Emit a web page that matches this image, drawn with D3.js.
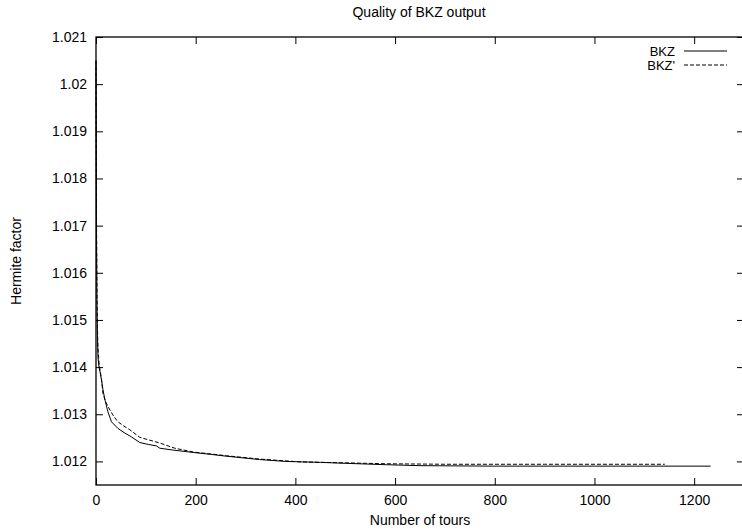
<!DOCTYPE html>
<html lang="en">
<head>
    <meta charset="UTF-8">
    <title>Quality of BKZ output</title>
    <style>
        body { margin: 0; background: #fff; }
        text { font-family: "Liberation Sans", Arial, sans-serif; fill: #000; }
    </style>
</head>
<body>
<script src="https://d3js.org/d3.v7.min.js"></script>
<script>
    // Data: [tours, hermite factor]
    const bkzTours = [0, 1, 2, 3, 4, 6, 8, 11, 14, 18, 24, 31, 44, 58, 71, 88, 105, 121, 128, 155, 195, 230, 262, 328, 380, 450, 500, 583, 650, 800, 1000, 1233];
    const bkzValues = [1.0205, 1.0168, 1.0153, 1.0146, 1.0142, 1.0140, 1.01390, 1.01373, 1.01352, 1.01330, 1.01305, 1.01284, 1.01270, 1.01260, 1.01252, 1.01240, 1.01236, 1.01233, 1.01228, 1.01224, 1.01219, 1.01215, 1.01211, 1.01204, 1.01200, 1.01198, 1.01196, 1.01193, 1.01191, 1.01190, 1.01190, 1.01190];
    const bkz2Tours = [0, 1, 2, 3, 4, 6, 8, 11, 14, 20, 28, 36, 44, 56, 68, 88, 108, 128, 158, 195, 262, 328, 409, 500, 583, 700, 900, 1141];
    const bkz2Values = [1.0205, 1.0172, 1.0156, 1.0148, 1.0144, 1.0141, 1.01395, 1.01375, 1.01344, 1.01325, 1.01309, 1.01295, 1.01284, 1.01275, 1.01267, 1.01251, 1.01245, 1.01239, 1.01228, 1.01220, 1.01212, 1.01205, 1.01199, 1.01197, 1.01195, 1.01194, 1.01194, 1.01194];
    const xTicks = [0, 200, 400, 600, 800, 1000, 1200];
    const yTicks = [1.012, 1.013, 1.014, 1.015, 1.016, 1.017, 1.018, 1.019, 1.02, 1.021];
    const seriesNames = ["BKZ", "BKZ'"];

    // Set Dimensions
    const width = 742, height = 529;
    const mLeft = 96, mRight = 744, mTop = 37, mBottom = 485;

    const svg = d3.select("body")
        .append("svg")
        .attr("width", width)
        .attr("height", height);

    const x = d3.scaleLinear().domain([0, 1300]).range([mLeft, mRight]);
    const y = d3.scaleLinear().domain([1.0115, 1.021]).range([mBottom, mTop]);

    // axes, ticks point inward
    svg.append("g")
        .attr("transform", `translate(0,${mBottom})`)
        .call(d3.axisBottom(x).tickValues(xTicks).tickSizeInner(-7).tickSizeOuter(0).tickPadding(10).tickFormat(d3.format("d")));
    svg.append("g")
        .attr("transform", `translate(0,${mTop})`)
        .call(d3.axisTop(x).tickValues(xTicks).tickSizeInner(-7).tickSizeOuter(0).tickFormat(""));
    svg.append("g")
        .attr("transform", `translate(${mLeft},0)`)
        .call(d3.axisLeft(y).tickValues(yTicks).tickSizeInner(-7).tickSizeOuter(0).tickPadding(9).tickFormat(d3.format("")));
    svg.append("g")
        .attr("transform", `translate(${mRight},0)`)
        .call(d3.axisRight(y).tickValues(yTicks).tickSizeInner(-7).tickSizeOuter(0).tickFormat(""));

    svg.selectAll(".domain").remove();
    svg.selectAll(".tick line").attr("stroke", "#000");
    svg.selectAll(".tick text")
        .style("font-size", "14px")
        .style("font-family", "'Liberation Sans', Arial, sans-serif");

    // border
    svg.append("rect")
        .attr("x", mLeft).attr("y", mTop)
        .attr("width", mRight - mLeft).attr("height", mBottom - mTop)
        .attr("fill", "none").attr("stroke", "#000").attr("stroke-width", 1.3);

    // lines
    const line = d3.line()
        .x(d => x(d[0]))
        .y(d => y(d[1]));

    const bkz = bkzTours.map((t, i) => [t, bkzValues[i]]);
    const bkz2 = bkz2Tours.map((t, i) => [t, bkz2Values[i]]);

    svg.append("path")
        .datum(bkz2)
        .attr("fill", "none")
        .attr("stroke", "#000")
        .attr("stroke-width", 1)
        .attr("stroke-dasharray", "4,2")
        .attr("d", line);
    svg.append("path")
        .datum(bkz)
        .attr("fill", "none")
        .attr("stroke", "#000")
        .attr("stroke-width", 1)
        .attr("d", line);

    // legend
    seriesNames.forEach((name, i) => {
        const ly = 51 + i * 14;
        svg.append("text")
            .attr("x", 675).attr("y", ly + 4.5)
            .attr("text-anchor", "end")
            .style("font-size", "13px")
            .text(name);
        svg.append("line")
            .attr("x1", 684).attr("x2", 727)
            .attr("y1", ly).attr("y2", ly)
            .attr("stroke", "#000")
            .attr("stroke-dasharray", i === 1 ? "4,2" : null);
    });

    // titles
    svg.append("text")
        .attr("x", 419).attr("y", 17)
        .attr("text-anchor", "middle")
        .style("font-size", "14px")
        .text("Quality of BKZ output");
    svg.append("text")
        .attr("x", 420).attr("y", 525)
        .attr("text-anchor", "middle")
        .style("font-size", "14px")
        .text("Number of tours");
    svg.append("text")
        .attr("transform", "translate(21,261) rotate(-90)")
        .attr("text-anchor", "middle")
        .style("font-size", "14px")
        .text("Hermite factor");
</script>
</body>
</html>
